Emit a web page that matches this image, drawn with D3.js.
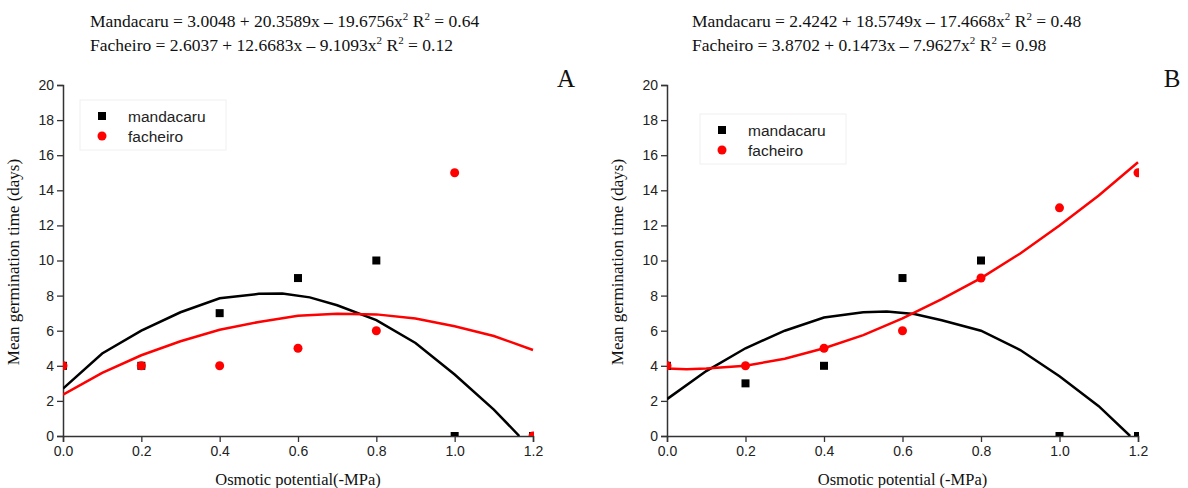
<!DOCTYPE html>
<html>
<head>
<meta charset="utf-8">
<script src="https://cdn.jsdelivr.net/npm/d3@7"></script>
<style>
  body { margin: 0; background: #fff; }
  .tick text { font-family: "Liberation Sans", Arial, sans-serif; font-size: 14px; fill: #222; }
  .serif { font-family: "Liberation Serif", "Times New Roman", serif; fill: #111; }
</style>
</head>
<body>
<svg id="chart" width="1188" height="488"></svg>
<script>
// observed points, x = osmotic potential (-MPa)
const potentials = [0.0, 0.2, 0.4, 0.6, 0.8, 1.0, 1.2];
const mandacaruA = [4, 4, 7, 9, 10, 0, 0];
const facheiroA = [4, 4, 4, 5, 6, 15, 0];
const mandacaruB = [4, 3, 4, 9, 10, 0, 0];
const facheiroB = [4, 4, 5, 6, 9, 13, 15];

// fitted curves
const fitMandacaruA = [[0, 2.7], [0.1, 4.7], [0.2, 6.0], [0.3, 7.05], [0.4, 7.85], [0.5, 8.1], [0.56, 8.12], [0.63, 7.9], [0.7, 7.45], [0.8, 6.6], [0.9, 5.3], [1.0, 3.5], [1.1, 1.5], [1.165, 0]];
const fitFacheiroA = [[0, 2.35], [0.1, 3.6], [0.2, 4.6], [0.3, 5.4], [0.4, 6.05], [0.5, 6.5], [0.6, 6.85], [0.7, 6.97], [0.8, 6.93], [0.9, 6.7], [1.0, 6.25], [1.1, 5.7], [1.2, 4.9]];
const fitMandacaruB = [[0, 2.1], [0.1, 3.7], [0.2, 5.0], [0.3, 6.0], [0.4, 6.75], [0.5, 7.05], [0.56, 7.1], [0.63, 6.95], [0.7, 6.6], [0.8, 6.0], [0.9, 4.9], [1.0, 3.4], [1.1, 1.7], [1.18, 0]];
const fitFacheiroB = [[0, 3.85], [0.05, 3.8], [0.1, 3.85], [0.2, 4.0], [0.3, 4.4], [0.4, 5.0], [0.5, 5.75], [0.6, 6.7], [0.7, 7.8], [0.8, 9.0], [0.9, 10.4], [1.0, 12.0], [1.1, 13.7], [1.2, 15.6]];

const yTicks = [0, 2, 4, 6, 8, 10, 12, 14, 16, 18, 20];
const xTicks = [0.0, 0.2, 0.4, 0.6, 0.8, 1.0, 1.2];
const seriesNames = ["mandacaru", "facheiro"];

const svg = d3.select("#chart");

function drawPanel(p) {
  const x = d3.scaleLinear().domain([0, 1.2]).range([p.left, p.right]);
  const y = d3.scaleLinear().domain([0, 20]).range([436, 85]);
  const g = svg.append("g");

  // equations
  p.equations.forEach(function(eq, i) {
    const t = g.append("text").attr("class", "serif")
      .attr("x", p.eqX).attr("y", 27 + i * 24).style("font-size", "17.5px");
    t.append("tspan").text(eq[0] + "x");
    t.append("tspan").attr("dy", -7).style("font-size", "11px").text("2");
    t.append("tspan").attr("dy", 7).text(" R");
    t.append("tspan").attr("dy", -7).style("font-size", "11px").text("2");
    t.append("tspan").attr("dy", 7).text(" = " + eq[1]);
  });

  g.append("text").attr("class", "serif")
    .attr("x", p.letterX).attr("y", 87)
    .attr("text-anchor", "middle").style("font-size", "25px").text(p.letter);

  // axes
  const ax = g.append("g").attr("transform", "translate(0,436)")
    .call(d3.axisBottom(x).tickValues(xTicks).tickFormat(d3.format(".1f")).tickSizeOuter(0).tickSize(6).tickPadding(4));
  const ay = g.append("g").attr("transform", `translate(${p.left},0)`)
    .call(d3.axisLeft(y).tickValues(yTicks).tickSizeOuter(0).tickSize(6).tickPadding(3));
  [ax, ay].forEach(function(a) {
    a.select(".domain").attr("stroke", "#333").attr("stroke-width", 1.5);
    a.selectAll(".tick line").attr("stroke", "#333").attr("stroke-width", 1.3);
  });

  g.append("text").attr("class", "serif")
    .attr("transform", `translate(${p.left - 44},262) rotate(-90)`)
    .attr("text-anchor", "middle").style("font-size", "17px")
    .text("Mean germination time (days)");
  g.append("text").attr("class", "serif")
    .attr("x", (p.left + p.right) / 2).attr("y", 485)
    .attr("text-anchor", "middle").style("font-size", "16.5px")
    .text(p.xlabel);

  // plot area clip
  const clipId = "clip" + p.letter;
  g.append("clipPath").attr("id", clipId).append("rect")
    .attr("x", p.left).attr("y", 80).attr("width", p.right - p.left + 1).attr("height", 436 - 80);
  const plot = g.append("g").attr("clip-path", `url(#${clipId})`);

  const line = d3.line().x(d => x(d[0])).y(d => y(d[1])).curve(d3.curveLinear);
  plot.append("path").datum(p.fitM).attr("d", line)
    .attr("fill", "none").attr("stroke", "#000").attr("stroke-width", 2.5);
  plot.append("path").datum(p.fitF).attr("d", line)
    .attr("fill", "none").attr("stroke", "#ff0000").attr("stroke-width", 2.5);

  plot.selectAll(".sq").data(potentials.map((v, i) => [v, p.mand[i]])).enter()
    .append("rect")
    .attr("x", d => x(d[0]) - 4).attr("y", d => y(d[1]) - 4)
    .attr("width", 8).attr("height", 8).attr("fill", "#000");
  plot.selectAll(".dot").data(potentials.map((v, i) => [v, p.fach[i]])).enter()
    .append("circle")
    .attr("cx", d => x(d[0])).attr("cy", d => y(d[1]))
    .attr("r", 4.5).attr("fill", "#ff0000");

  // legend
  const lg = g.append("g").attr("transform", `translate(${p.legX},${p.legY})`);
  lg.append("rect").attr("x", -22).attr("y", -16).attr("width", 146).attr("height", 50)
    .attr("fill", "none").attr("stroke", "#f0f0f0");
  seriesNames.forEach(function(name, i) {
    if (i === 0) {
      lg.append("rect").attr("x", -4).attr("y", -4).attr("width", 8).attr("height", 8).attr("fill", "#000");
    } else {
      lg.append("circle").attr("cx", 0).attr("cy", 20).attr("r", 4.5).attr("fill", "#ff0000");
    }
    lg.append("text").attr("x", 26).attr("y", i * 20 + 5.5)
      .style("font-family", "Liberation Sans, Arial, sans-serif").style("font-size", "15.5px")
      .attr("fill", "#222").text(name);
  });
}

drawPanel({
  left: 63, right: 533, eqX: 90, letterX: 566, letter: "A",
  legX: 102, legY: 116, xlabel: "Osmotic potential(-MPa)",
  equations: [["Mandacaru = 3.0048 + 20.3589x \u2013 19.6756", "0.64"], ["Facheiro = 2.6037 + 12.6683x \u2013 9.1093", "0.12"]],
  mand: mandacaruA, fach: facheiroA, fitM: fitMandacaruA, fitF: fitFacheiroA
});
drawPanel({
  left: 667, right: 1138, eqX: 692, letterX: 1172, letter: "B",
  legX: 722, legY: 130, xlabel: "Osmotic potential (-MPa)",
  equations: [["Mandacaru = 2.4242 + 18.5749x \u2013 17.4668", "0.48"], ["Facheiro = 3.8702 + 0.1473x \u2013 7.9627", "0.98"]],
  mand: mandacaruB, fach: facheiroB, fitM: fitMandacaruB, fitF: fitFacheiroB
});
</script>
</body>
</html>
